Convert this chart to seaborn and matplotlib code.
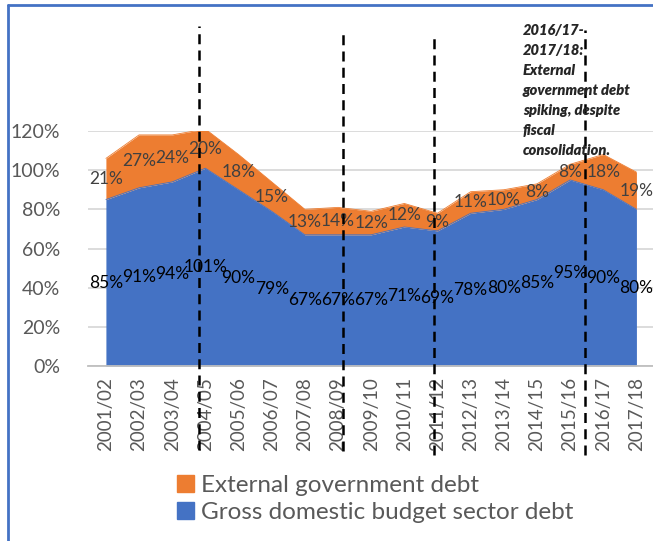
import numpy as np
import matplotlib.pyplot as plt
import seaborn as sns
from matplotlib.lines import Line2D
from matplotlib.patches import Patch

# Dữ liệu (% GDP)
years = ["2001/02", "2002/03", "2003/04", "2004/05", "2005/06", "2006/07",
         "2007/08", "2008/09", "2009/10", "2010/11", "2011/12", "2012/13",
         "2013/14", "2014/15", "2015/16", "2016/17", "2017/18"]
domestic = [85, 91, 94, 101, 90, 79, 67, 67, 67, 71, 69, 78, 80, 85, 95, 90, 80]
external = [21, 27, 24, 20, 18, 15, 13, 14, 12, 12, 9, 11, 10, 8, 8, 18, 19]

# vị trí các đường đứt nét (theo trục x)
event_pos = [2.80, 7.15, 9.90, 14.45]
note = ("2016/17-\n2017/18:\nExternal\ngovernment debt\n"
        "spiking, despite\nfiscal\nconsolidation.")

blue = "#4472C4"
orange = "#ED7D31"
grey = "#595959"

sns.set_style("white")
plt.rcParams["font.family"] = ["Lato", "DejaVu Sans"]

fig = plt.figure(figsize=(6.53, 5.41), dpi=100)
ax = fig.add_axes([88 / 653, (541 - 366) / 541, (653 - 88) / 653, 235 / 541])

x = np.arange(len(years))
dom = np.array(domestic) / 100
ext = np.array(external) / 100
ax.stackplot(x, dom, ext, colors=[blue, orange], linewidth=0, zorder=2)
sns.lineplot(x=x, y=dom + ext, color=orange, lw=0.6, ax=ax, zorder=2)
sns.lineplot(x=x, y=dom, color=blue, lw=0.6, ax=ax, zorder=2)

for i in x:
    ax.text(i, dom[i] / 2, f"{domestic[i]}%", ha="center", va="center",
            fontsize=12.5, color="black", zorder=4)
    ax.text(i, dom[i] + ext[i] / 2, f"{external[i]}%", ha="center",
            va="center", fontsize=12.5, color="#404040", zorder=4)

ax.set_xlim(-0.54, 15.85)
ax.set_ylim(0, 1.2)
ax.set_xticks(x)
ax.set_xticklabels(years, rotation=90)
ax.set_xticks(np.arange(-0.5, len(years), 1), minor=True)
ax.tick_params(axis="x", which="major", length=0, pad=8, labelsize=13.5,
               colors=grey)
ax.tick_params(axis="x", which="minor", length=7, width=1, color="#bfbfbf")
yt = np.arange(0, 1.21, 0.2)
ax.set_yticks(yt)
ax.set_yticklabels([f"{round(v * 100)}%" for v in yt])
ax.tick_params(axis="y", length=0, pad=20, labelsize=14, colors=grey)
ax.yaxis.grid(True, color="#d9d9d9", lw=1.3)
ax.set_axisbelow(True)
for s in ["top", "right", "left"]:
    ax.spines[s].set_visible(False)
ax.spines["bottom"].set_color("#bfbfbf")
ax.spines["bottom"].set_linewidth(1.3)
ax.set_xlabel("")
ax.set_ylabel("")

# đường đứt nét
tops = [1.445, 1.435, 1.415, 1.43]
bottoms = [-0.357, -0.36, -0.379, -0.379]
ax.vlines(event_pos, bottoms, tops, transform=ax.get_xaxis_transform(),
          clip_on=False, colors="black", linestyles=(0, (4, 2.5)), lw=1.8,
          zorder=5)

fig.text(523 / 653, 1 - 24 / 541, note, fontsize=10.5, weight="heavy",
         style="italic", va="top", ha="left", linespacing=1.64)

handles = [Patch(color=orange), Patch(color=blue)]
fig.legend(handles, ["External government debt", "Gross domestic budget sector debt"],
           loc="upper left", bbox_to_anchor=(155 / 653, 1 - 453 / 541),
           frameon=False, fontsize=17.5, handlelength=0.7, handleheight=0.7,
           handletextpad=0.3, labelspacing=0.25, labelcolor=grey)

# khung viền xanh
fig.add_artist(Line2D([8 / 653, 8 / 653], [0, 1 - 5 / 541], color=blue, lw=2))
fig.add_artist(Line2D([8 / 653, 1], [1 - 5 / 541, 1 - 5 / 541], color=blue, lw=2))

fig.savefig("out.png", dpi=100)
